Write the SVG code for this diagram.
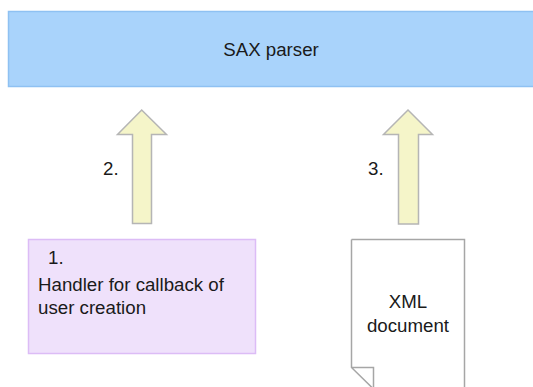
<svg xmlns="http://www.w3.org/2000/svg" width="533" height="387" viewBox="0 0 533 387">
<style>
text{font-family:"Liberation Sans",Arial,sans-serif;font-size:18.7px;fill:#1a1a1a}
.arrow{fill:#f5f5c9;stroke:#b5b5b5;stroke-width:1.5}
</style>
<rect width="533" height="387" fill="#fff"/>
<g id="sax">
<rect x="8.5" y="11.5" width="540" height="75" fill="#a9d3fb" stroke="#8fc1f2" stroke-width="1.5"/>
<text x="271" y="56" text-anchor="middle">SAX parser</text>
</g>
<g id="handler">
<rect x="28.5" y="239.5" width="227" height="114" fill="#efe1fb" stroke="#dcbcf6" stroke-width="1.5"/>
<text x="48" y="264">1.</text>
<text x="38" y="291">Handler for callback of</text>
<text x="38" y="314">user creation</text>
</g>
<g id="xmldoc">
<path d="M351.5,239.5 H464.5 V400 H373.5 L351.5,367.5 Z" fill="#fff" stroke="none"/>
<path d="M351.5,239.5 H464.5 V400 M351.5,239.5 V367.5 L373.5,389 M351.5,367.5 H373.5 V389" fill="none" stroke="#a6a6a6" stroke-width="1.5"/>
<text x="408" y="308" text-anchor="middle">XML</text>
<text x="408" y="332" text-anchor="middle">document</text>
</g>
<g id="connectors">
<path class="arrow" d="M132.5,223.5 V134.5 H117.5 L141.7,110 L166.5,134.5 H151.5 V223.5 Z"/>
<text x="103" y="175">2.</text>
<path class="arrow" d="M398.5,224 V134.5 H383.5 L408,110 L432.5,134.5 H418.5 V224 Z"/>
<text x="368" y="175">3.</text>
</g>
</svg>
